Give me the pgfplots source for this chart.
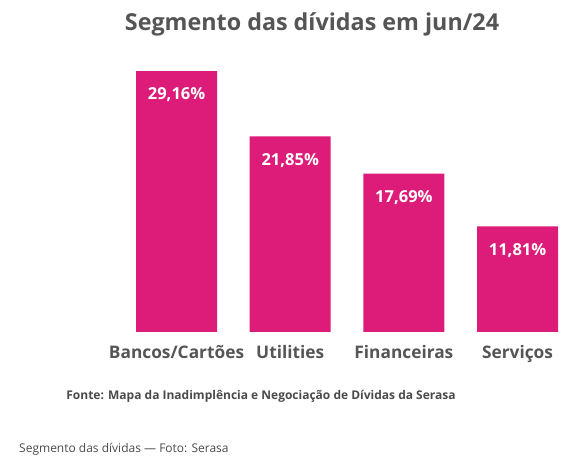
\documentclass[border=0pt]{standalone}
\usepackage{pgfplots}
\pgfplotsset{compat=1.18}
\usepackage{fontspec}
\setmainfont{Open Sans}
\definecolor{barc}{HTML}{DC1C78}
\definecolor{titc}{HTML}{555555}
\definecolor{srcc}{HTML}{4A4A4A}
\begin{document}
\begin{tikzpicture}[x=1pt,y=1pt]
\useasboundingbox (0,0) rectangle (587,465);
\node[font=\bfseries\fontsize{23.3}{28}\selectfont, text=titc] at (312,441) {Segmento das dívidas em jun/24};
\begin{axis}[
  at={(119.7pt,133pt)}, anchor=south west,
  scale only axis, width=454.7pt, height=268.5pt,
  xmin=-0.5, xmax=3.5, ymin=0, ymax=30,
  axis x line=bottom, axis y line=none,
  x axis line style={draw=none, -},
  ytick=\empty,
  xtick={0,1,2,3}, major tick length=0pt,
  xticklabels={Bancos/Cartões, Utilities, Financeiras, Serviços},
  xticklabel style={font=\bfseries\fontsize{17.3}{21}\selectfont, text=titc, anchor=base, yshift=-27pt},
  ybar, bar width=81pt, bar shift=0pt,
  point meta=explicit symbolic,
  nodes near coords,
  every node near coord/.append style={font=\bfseries\fontsize{16.5}{20}\selectfont, text=white, anchor=center, yshift=-24pt},
]
\addplot[fill=barc, draw=none] coordinates {
  (0,29.16) [29,16\%]
  (1,21.85) [21,85\%]
  (2,17.69) [17,69\%]
  (3,11.81) [11,81\%]
};
\end{axis}
\node[font=\bfseries\fontsize{12}{14}\selectfont, text=srcc] at (261,69) {Fonte: Mapa da Inadimplência e Negociação de Dívidas da Serasa};
\node[font=\fontsize{12}{14}\selectfont, text=srcc, anchor=west, inner sep=0pt] at (19,16) {Segmento das dívidas — Foto: Serasa};
\end{tikzpicture}
\end{document}
